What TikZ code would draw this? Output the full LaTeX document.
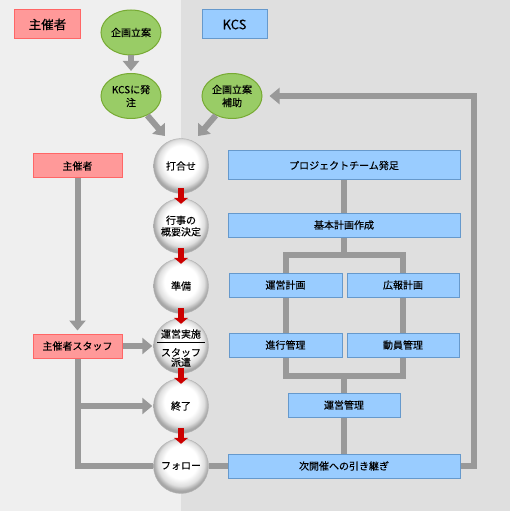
\documentclass[tikz,border=0pt]{standalone}
\usepackage{fontspec}
\setmainfont[FakeBold=0.2]{Noto Sans CJK JP}
\usetikzlibrary{arrows.meta,shapes.geometric,calc}
\definecolor{bgL}{HTML}{EFEFEF}
\definecolor{bgR}{HTML}{DFDFDF}
\definecolor{lnG}{HTML}{999999}
\definecolor{redF}{HTML}{FF9999}
\definecolor{redD}{HTML}{FF6666}
\definecolor{bluF}{HTML}{99CCFF}
\definecolor{bluD}{HTML}{6699CC}
\definecolor{grnF}{HTML}{99CC66}
\definecolor{grnD}{HTML}{77AA33}
\definecolor{arrR}{HTML}{CC0000}
\pgfdeclareradialshading{sphereshade}{\pgfpoint{0bp}{5bp}}{color(0bp)=(white); color(15bp)=(white); color(21bp)=(gray!25); color(25bp)=(gray!70); color(50bp)=(gray!70)}
\begin{document}
\begin{tikzpicture}[x=1bp,y=-1bp,
  font=\fontsize{10bp}{12bp}\selectfont,
  gline/.style={draw=lnG, line width=6bp, line join=miter},
  garrow/.style={gline, -{Triangle[width=16bp,length=10bp]}},
  rarrow/.style={draw=arrR, line width=6bp, -{Triangle[width=14bp,length=6bp]}},
  hdrpink/.style={rectangle, fill=redF, draw=redD, line width=1bp, minimum width=65bp, minimum height=29bp, inner sep=0, font=\fontsize{12.5bp}{15bp}\selectfont},
  hdrblue/.style={rectangle, fill=bluF, draw=bluD, line width=1bp, minimum width=65bp, minimum height=29bp, inner sep=0, font=\fontsize{13bp}{15bp}\selectfont},
  pinkbox/.style={rectangle, fill=redF, draw=redD, line width=1bp, inner sep=0, minimum width=89bp, minimum height=24bp},
  bluebox/.style={rectangle, fill=bluF, draw=bluD, line width=1bp, inner sep=0, minimum height=24bp},
  oval/.style={ellipse, fill=grnF, draw=grnD, line width=1bp, minimum width=60bp, minimum height=45bp, inner sep=0, align=center, font=\fontsize{10bp}{13bp}\selectfont},
  ball/.style={circle, minimum size=55bp, inner sep=0, shading=sphereshade, draw=gray!60, line width=0.4bp, align=center}
]
\fill[bgL] (0,0) rectangle (181,511);
\fill[bgR] (181,0) rectangle (510,511);
\useasboundingbox (0,0) rectangle (510,511);

% headers
\node[hdrpink] (hA) at (47.5,24.5) {主催者};
\node[hdrblue] (hB) at (234.5,24.5) {KCS};

% ellipses
\node[oval] (e1) at (131,32.5) {企画立案};
\node[oval] (e2) at (131,96) {KCSに発\\注};
\node[oval] (e3) at (232,96) {企画立案\\補助};

% left boxes
\node[pinkbox] (r1) at (77.5,166) {主催者};
\node[pinkbox] (r2) at (77.5,346) {主催者スタッフ};

% circles
\node[ball] (c1) at (181,166) {打合せ};
\node[ball, font=\fontsize{10bp}{11.5bp}\selectfont] (c2) at (181,226) {行事の\\概要決定};
\node[ball] (c3) at (181,286) {準備};
\node[ball] (c4) at (181,346) {};
\node (c4a) at (181,334) {運営実施};
\node[align=center, font=\fontsize{10bp}{9.8bp}\selectfont] (c4b) at (181,357.5) {スタッフ\\派遣};
\node[ball] (c5) at (181,406) {終了};
\node[ball] (c6) at (181,466) {フォロー};
\draw[line width=0.8bp] ($(c4.center)+(-24,-4)$) -- ($(c4.center)+(24,-4)$);

% blue boxes
\node[bluebox, minimum width=232bp, minimum height=29bp] (b1) at (344,165.5) {プロジェクトチーム発足};
\node[bluebox, minimum width=232bp] (b2) at (344,225) {基本計画作成};
\node[bluebox, minimum width=113bp] (b3) at (285.5,285) {運営計画};
\node[bluebox, minimum width=112bp] (b4) at (403,285) {広報計画};
\node[bluebox, minimum width=113bp] (b5) at (285.5,345) {進行管理};
\node[bluebox, minimum width=112bp] (b6) at (403,345) {動員管理};
\node[bluebox, minimum width=112bp] (b7) at (344,405) {運営管理};
\node[bluebox, minimum width=232bp] (b8) at (344,466) {次開催への引き継ぎ};

% coordinates
\coordinate (t1) at (165,136);
\coordinate (t2) at (198,136);
\coordinate (j1) at (344,255);
\coordinate (j2) at (344,376);
\coordinate (j3) at (474,96);

% gray connectors
\draw[garrow, shorten >=2bp] (e1) -- (e2);
\draw[garrow] (e2.-50) -- (t1);
\draw[garrow] (e3.-130) -- (t2);
\draw[gline] (b1) -- (b2);
\draw[gline] (b2.south) -- (j1);
\draw[gline] (b3.north) -- (b3.north |- j1) -- (b4.north |- j1) -- (b4.north);
\draw[gline] (b3) -- (b5);
\draw[gline] (b4) -- (b6);
\draw[gline] (b5.south) -- (b5.south |- j2) -- (b6.south |- j2) -- (b6.south);
\draw[gline] (j2) -- (b7.north);
\draw[gline] (b7) -- (b8);
\draw[gline] (c6) -- (b8);
\draw[garrow, shorten >=7bp] (b8.east) -| (j3) -- (e3.east);
\draw[gline] (c6.west) -| (r2.south);
\draw[garrow, shorten >=3bp] (r1.south) -- (r2.north);
\draw[garrow, shorten >=1bp] (r2.east) -- (c4.west);
\draw[garrow, shorten >=1bp] (r2.south |- c5.west) -- (c5.west);

% red arrows
\draw[rarrow, shorten <=-5.5bp, shorten >=-5.5bp] (c1.south) -- (c2.north);
\draw[rarrow, shorten <=-5.5bp, shorten >=-5.5bp] (c2.south) -- (c3.north);
\draw[rarrow, shorten <=-5.5bp, shorten >=-5.5bp] (c3.south) -- (c4.north);
\draw[rarrow, shorten <=-5.5bp, shorten >=-5.5bp] (c4.south) -- (c5.north);
\draw[rarrow, shorten <=-5.5bp, shorten >=-5.5bp] (c5.south) -- (c6.north);
\end{tikzpicture}
\end{document}
